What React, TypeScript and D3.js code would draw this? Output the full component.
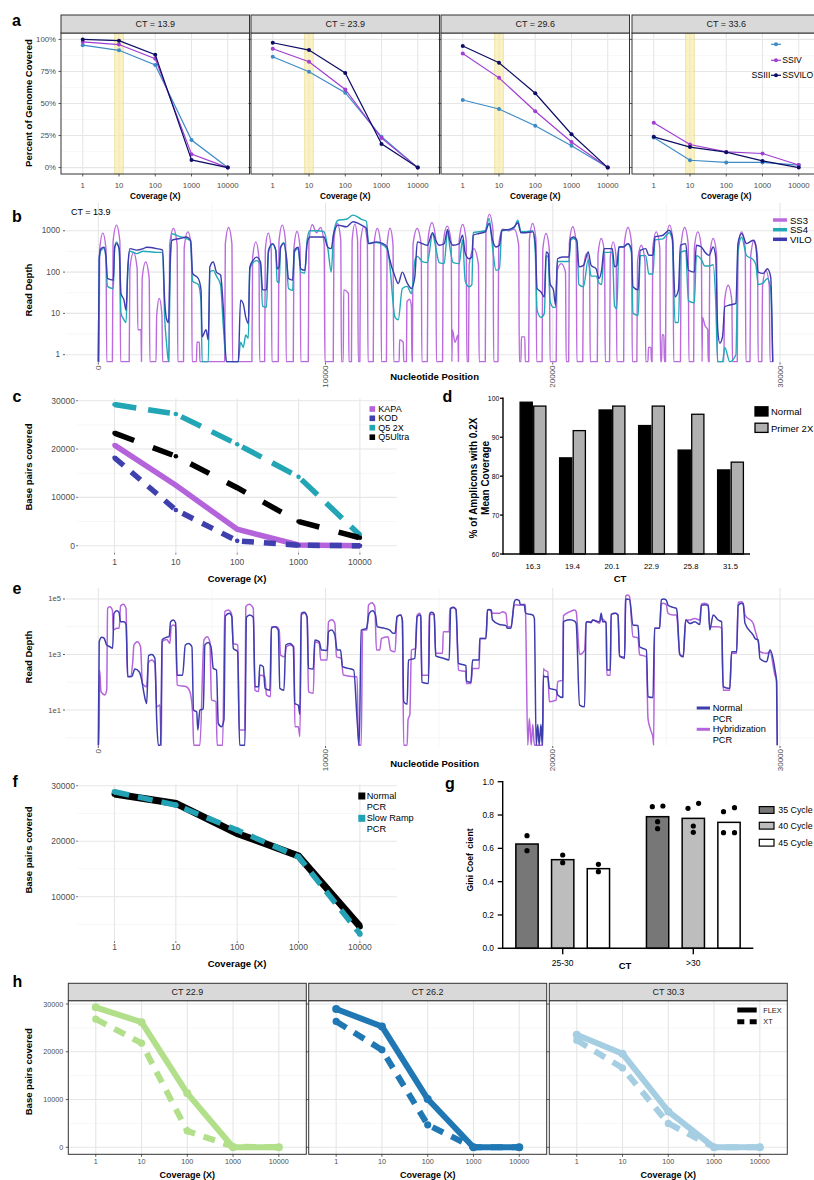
import React from "react";
import * as d3 from "d3";

const FONT = "'Liberation Sans', Arial, Helvetica, sans-serif";
const GRID = "#e6e6e6";
const GRID_MINOR = "#f1f1f1";
const AXIS_TEXT = "#4d4d4d";
const FRAME = "#333333";

type Pt = [number, number];

/* ---------- a: percent of genome covered by reverse transcriptase ---------- */
const coverageLevels = ["1", "10", "100", "1000", "10000"];
const ctPanelsA = ["CT = 13.9", "CT = 23.9", "CT = 29.6", "CT = 33.6"];
const pctSSIII = [
  [95.5, 91.5, 80, 21.5, 0],
  [86.5, 74.8, 58.4, 24, 0],
  [52.7, 45.7, 32.7, 17, 0],
  [23.4, 5.7, 4, 4, 2],
];
const pctSSIV = [
  [98, 96, 85, 10.5, 0],
  [92.7, 82.6, 61, 23, 0],
  [89, 70, 44, 20, 0],
  [35, 18, 12.2, 11, 2],
];
const pctSSVILO = [
  [100, 99, 88, 6, 0],
  [97.4, 91.7, 73.8, 18.5, 0],
  [94.8, 81.8, 58, 26, 0],
  [24, 16, 12, 5.2, 0],
];
const pctTicks = [0, 25, 50, 75, 100];

/* ---------- b: read depth along the genome, CT = 13.9 ---------- */
const positionTicks = [0, 10000, 20000, 30000];
const depthTicksB = [1, 10, 100, 1000];

const depthSS3: Pt[] = [
  [0, 0], [30, 0], [60, 350], [200, 880], [340, 350], [370, 0],
  [620, 0], [650, 550], [800, 1370], [950, 550], [980, 0],
  [1360, 0], [1390, 120], [1550, 300], [1710, 120], [1740, 4], [1880, 4], [1900, 0],
  [1930, 70], [2085, 175], [2240, 70], [2270, 0],
  [2540, 0], [2570, 9], [2685, 23], [2800, 9], [2830, 0],
  [3110, 0], [3140, 460], [3305, 1140], [3470, 460], [3500, 0],
  [3750, 0], [3780, 380], [3940, 940], [4100, 380], [4130, 0],
  [4320, 0], [4340, 2], [4450, 2], [4470, 0],
  [5560, 0], [5590, 480], [5735, 1200], [5880, 480], [5910, 0],
  [6760, 0], [6790, 220], [6930, 540], [7070, 220], [7100, 0],
  [7320, 0], [7350, 350], [7480, 880], [7610, 350], [7640, 0],
  [7920, 0], [7950, 550], [8095, 1370], [8240, 550], [8270, 0],
  [8580, 0], [8610, 380], [8745, 960], [8880, 380], [8910, 0],
  [9240, 0], [9270, 560], [9420, 1400], [9600, 900], [9780, 1200], [9940, 480], [9970, 0],
  [10340, 0], [10370, 600], [10520, 1500], [10670, 600], [10700, 0],
  [10780, 0], [10800, 37], [11010, 30], [11030, 0],
  [11140, 0], [11170, 580], [11290, 1450], [11410, 580], [11440, 0],
  [11510, 0], [11540, 520], [11690, 1300], [11840, 520], [11870, 0],
  [12100, 0], [12130, 460], [12280, 1140], [12430, 460], [12460, 0],
  [12680, 0], [12710, 460], [12840, 1150], [12970, 460], [13000, 0],
  [13240, 0], [13260, 2.3], [13420, 2], [13440, 0],
  [13560, 0], [13580, 19], [13700, 22], [13780, 15], [13800, 0],
  [13820, 0], [13850, 460], [14030, 1140], [14210, 460], [14240, 0],
  [14480, 0], [14510, 620], [14680, 1560], [14850, 620], [14880, 0],
  [15150, 0], [15180, 520], [15355, 1300], [15530, 520], [15560, 0], [15580, 4], [15700, 2], [15830, 3], [15850, 0],
  [15880, 570], [16035, 1420], [16190, 570], [16220, 0],
  [16290, 0], [16320, 150], [16525, 370], [16730, 150], [16760, 0],
  [17030, 0], [17060, 1000], [17215, 2500], [17370, 1000], [17400, 0],
  [17590, 0], [17620, 450], [17800, 1100], [18060, 1000], [18300, 1100], [18500, 450], [18530, 0],
  [18600, 0], [18620, 2.7], [18770, 2.7], [18790, 0],
  [18940, 0], [18970, 600], [19115, 1500], [19260, 600], [19290, 0],
  [19530, 0], [19560, 340], [19705, 860], [19850, 340], [19880, 0],
  [20150, 0], [20180, 100], [20370, 160], [20560, 100], [20590, 0],
  [20700, 0], [20730, 500], [20880, 1250], [21030, 500], [21060, 0],
  [21320, 0], [21350, 110], [21485, 280], [21620, 110], [21650, 0],
  [21960, 0], [21990, 260], [22135, 650], [22280, 260], [22310, 0],
  [22500, 0], [22530, 220], [22660, 540], [22790, 220], [22820, 0],
  [23120, 0], [23150, 480], [23310, 1200], [23470, 480], [23500, 0],
  [23700, 0], [23730, 180], [23895, 446], [24060, 180], [24090, 0],
  [24190, 0], [24210, 1.5], [24320, 1.5], [24340, 0],
  [24370, 0], [24400, 380], [24555, 940], [24710, 380], [24740, 0],
  [24790, 0], [24810, 3], [24890, 3], [24910, 0],
  [24960, 0], [24990, 550], [25140, 1370], [25290, 550], [25320, 0],
  [25620, 0], [25650, 480], [25805, 1200], [25960, 480], [25990, 0],
  [26200, 0], [26230, 380], [26385, 940], [26540, 380], [26570, 0], [26590, 8], [26700, 5], [26820, 4], [26840, 0],
  [26880, 0], [26910, 260], [27060, 650], [27210, 260], [27240, 0],
  [27530, 0], [27560, 20], [27720, 48], [27880, 20], [27910, 0],
  [28120, 0], [28150, 380], [28310, 940], [28470, 380], [28500, 0],
  [28680, 0], [28710, 240], [28860, 590], [29010, 240], [29040, 0],
  [29200, 0], [29230, 45], [29380, 110], [29530, 45], [29560, 0],
  [29700, 0],
];

const depthSS4: Pt[] = [
  [0, 0], [40, 200], [120, 340], [250, 370], [340, 200], [400, 45], [660, 40], [720, 380], [800, 540], [920, 340],
  [1000, 10], [1130, 7], [1220, 6], [1300, 110], [1390, 320], [1690, 280], [1980, 320], [2570, 300], [2830, 300],
  [2920, 8], [3000, 2], [3090, 0], [3170, 150], [3240, 850], [3590, 720], [3880, 650], [4060, 560], [4150, 60],
  [4400, 50], [4520, 20], [4570, 0], [4840, 0], [4910, 100], [5060, 110], [5200, 80], [5380, 50], [5500, 5],
  [5640, 0], [6160, 0], [6260, 2], [6380, 1.5], [6490, 3], [6600, 2.5], [6670, 120], [6820, 170], [6960, 190],
  [7140, 150], [7230, 15], [7400, 14], [7490, 300], [7670, 470], [7810, 330], [7870, 60], [7960, 55], [8020, 380],
  [8170, 520], [8280, 200], [8370, 40], [8550, 36], [8630, 300], [8800, 370], [8910, 100], [9090, 95], [9190, 600],
  [9310, 1000], [9600, 1000], [9930, 950], [10100, 380], [10250, 100], [10360, 900], [10550, 1800], [10920, 1900],
  [11210, 2400], [11580, 1900], [11800, 1700], [11890, 500], [12240, 520], [12530, 450], [12710, 360], [12800, 200],
  [13060, 8], [13200, 7], [13380, 40], [13590, 45], [13780, 30], [13940, 200], [14040, 240], [14260, 180],
  [14480, 170], [14710, 850], [14850, 400], [15000, 170], [15220, 160], [15370, 1000], [15470, 400], [15620, 170],
  [15880, 160], [16030, 600], [16150, 60], [16320, 44], [16440, 50], [16500, 900], [16760, 950], [17030, 1000],
  [17200, 2000], [17350, 400], [17500, 110], [17650, 120], [17760, 1000], [18090, 1050], [18310, 1200],
  [18460, 1800], [18600, 950], [18820, 950], [19120, 1000], [19230, 300], [19310, 12], [19480, 8], [19630, 10],
  [19710, 250], [19800, 230], [19880, 20], [20030, 14], [20120, 14], [20210, 180], [20440, 180], [20710, 180],
  [20790, 600], [20910, 650], [21060, 550], [21150, 50], [21350, 44], [21560, 200], [21690, 80], [21910, 80],
  [22030, 55], [22150, 50], [22260, 300], [22620, 300], [22720, 15], [22820, 13], [22910, 400], [23120, 420],
  [23310, 480], [23460, 300], [23530, 10], [23760, 9], [23850, 250], [24090, 250], [24230, 90], [24410, 90],
  [24500, 600], [24850, 640], [25120, 900], [25260, 600], [25380, 6], [25530, 6], [25620, 300], [25850, 330],
  [25970, 20], [26230, 18], [26320, 250], [26540, 200], [26690, 140], [26880, 140], [27060, 150], [27170, 20],
  [27260, 0], [27470, 0], [27570, 1.5], [27790, 0], [28060, 1], [28150, 300], [28310, 700], [28530, 250],
  [28820, 200], [28940, 150], [29040, 50], [29260, 55], [29440, 70], [29590, 40], [29680, 0],
];

const depthVILO: Pt[] = [
  [0, 0], [40, 230], [120, 370], [250, 400], [340, 230], [400, 70], [660, 64], [720, 400], [800, 490], [920, 370],
  [1000, 30], [1130, 21], [1220, 12], [1300, 130], [1390, 370], [1690, 340], [1980, 370], [2130, 400], [2570, 370],
  [2830, 340], [2920, 21], [3000, 7.5], [3090, 6], [3170, 230], [3240, 590], [3590, 650], [3880, 710], [4060, 590],
  [4150, 93], [4400, 70], [4520, 37], [4570, 2.7], [4740, 4], [4840, 2.3], [4910, 134], [5060, 175], [5200, 100],
  [5380, 85], [5500, 14], [5640, 0], [6160, 0], [6260, 21], [6380, 17], [6490, 8], [6600, 5.7], [6670, 134],
  [6820, 195], [6960, 230], [7140, 175], [7230, 37], [7400, 37], [7490, 340], [7670, 490], [7810, 340], [7870, 120],
  [7960, 134], [8020, 400], [8170, 490], [8280, 230], [8370, 70], [8550, 64], [8630, 340], [8800, 400], [8910, 120],
  [9090, 111], [9190, 490], [9310, 710], [9600, 710], [9930, 710], [10100, 400], [10250, 370], [10360, 860],
  [10550, 1370], [10920, 1250], [11210, 1650], [11580, 1370], [11800, 1140], [11890, 490], [12240, 540],
  [12530, 490], [12710, 400], [12800, 230], [13060, 77], [13200, 53], [13380, 100], [13590, 55], [13780, 40],
  [13930, 77], [14040, 540], [14260, 490], [14480, 446], [14710, 900], [14850, 590], [15000, 446], [15220, 490],
  [15370, 1080], [15470, 590], [15620, 446], [15880, 490], [16030, 780], [16150, 280], [16320, 210], [16440, 232],
  [16500, 780], [16760, 860], [17030, 940], [17200, 1500], [17350, 590], [17500, 406], [17650, 446], [17760, 1035],
  [18090, 1080], [18310, 1250], [18460, 1560], [18600, 900], [18820, 900], [19120, 940], [19230, 490], [19310, 40],
  [19480, 33], [19630, 25], [19710, 307], [19800, 280], [19880, 53], [20030, 37], [20120, 16], [20210, 210],
  [20440, 232], [20710, 232], [20790, 650], [20910, 710], [21060, 590], [21150, 134], [21350, 145], [21560, 307],
  [21690, 145], [21910, 120], [22030, 70], [22150, 111], [22260, 370], [22620, 370], [22720, 134], [22820, 145],
  [22910, 406], [23120, 406], [23310, 490], [23460, 370], [23530, 44], [23760, 37], [23850, 337], [24090, 370],
  [24230, 255], [24410, 255], [24500, 710], [24850, 780], [25120, 1035], [25260, 710], [25380, 25], [25530, 37],
  [25620, 446], [25850, 490], [25970, 111], [26230, 100], [26320, 446], [26540, 406], [26690, 307], [26880, 255],
  [27060, 406], [27170, 232], [27260, 4], [27350, 1.9], [27470, 2.7], [27570, 14.5], [27790, 16], [28060, 17.5],
  [28150, 490], [28310, 860], [28530, 490], [28820, 590], [28940, 406], [29040, 100], [29260, 93], [29440, 120],
  [29590, 77], [29680, 0],
];

/* ---------- c: base pairs covered by polymerase ---------- */
const polymerases = ["KAPA", "KOD", "Q5 2X", "Q5Ultra"];
const bpKAPA = [20800, 12500, 3400, 150, 0];
const bpKOD = [18200, 7400, 1000, 100, 0];
const bpQ52X = [29200, 27250, 21000, 14250, 2200];
const bpQ5Ultra = [23300, 18500, 12000, 5000, 1650];
const bpTicksC = [0, 10000, 20000, 30000];

/* ---------- d: amplicons reaching 0.2X mean coverage ---------- */
const ctD = ["16.3", "19.4", "20.1", "22.9", "25.8", "31.5"];
const ampNormal = [99, 84.7, 97, 93, 86.7, 81.6];
const ampPrimer2X = [98, 91.7, 98, 98, 95.9, 83.6];
const ampTicks = [60, 70, 80, 90, 100];

/* ---------- e: read depth, normal vs hybridization PCR ---------- */
const depthTicksE = [10, 1000, 100000];
const depthTickLabelsE = ["1e1", "1e3", "1e5"];

const depthNormalPCR: Pt[] = [
  [0, 0], [40, 2900], [150, 4200], [260, 3800], [370, 2200], [510, 1900], [630, 1670], [690, 30000], [810, 38000],
  [910, 33000], [980, 15000], [1130, 15000], [1220, 12000], [1300, 160], [1470, 160], [1610, 300], [1800, 240],
  [1910, 120], [2010, 40], [2130, 17], [2210, 900], [2350, 1000], [2490, 730], [2570, 4.4], [2640, 0], [2740, 0],
  [2810, 3400], [3010, 4200], [3120, 4400], [3180, 15000], [3300, 17500], [3400, 14000], [3470, 180], [3710, 180],
  [3830, 2200], [3970, 2500], [4120, 1900], [4190, 10], [4330, 8.5], [4380, 1.9], [4470, 10], [4620, 11],
  [4690, 2200], [4840, 2700], [4960, 1900], [5060, 316], [5200, 275], [5280, 3.3], [5420, 2.5], [5530, 4.4],
  [5590, 24000], [5760, 30400], [5880, 23000], [5940, 1670], [6130, 1260], [6220, 0], [6450, 0], [6520, 22000],
  [6670, 26500], [6820, 22000], [6900, 69], [7050, 69], [7110, 417], [7260, 363], [7340, 60], [7550, 52],
  [7620, 8760], [7770, 10100], [7920, 7630], [7990, 60], [8170, 52], [8250, 2200], [8430, 2500], [8580, 1900],
  [8650, 17], [8800, 15], [8870, 7], [8930, 30400], [9060, 33000], [9190, 23000], [9250, 316], [9460, 300],
  [9530, 3300], [9720, 2900], [9820, 1450], [10070, 1400], [10130, 6650], [10260, 7630], [10410, 5040],
  [10510, 1450], [10660, 1450], [10750, 363], [11000, 316], [11240, 275], [11390, 4.4], [11480, 0], [11570, 7630],
  [11800, 8760], [11920, 30400], [12070, 38000], [12200, 26500], [12270, 10100], [12610, 8760], [12830, 7630],
  [12970, 5790], [13060, 5790], [13150, 23100], [13300, 26500], [13380, 17500], [13440, 20], [13590, 16],
  [13650, 631], [13930, 725], [14030, 23100], [14150, 26500], [14190, 25000], [14240, 100], [14530, 90],
  [14590, 30400], [14680, 33000], [14780, 28000], [14850, 900], [15150, 750], [15440, 640], [15510, 45000],
  [15620, 50000], [15740, 42000], [15850, 480], [16180, 400], [16200, 110], [16400, 100], [16470, 630],
  [16760, 630], [16790, 3800], [17060, 3800], [17130, 40000], [17180, 42000], [17280, 40000], [17350, 17500],
  [17650, 12000], [17940, 11000], [18010, 8760], [18160, 8760], [18310, 80000], [18380, 95000], [18530, 88000],
  [18560, 65000], [18750, 60000], [18790, 35000], [18820, 30400], [19120, 26500], [19190, 20000], [19270, 0],
  [19340, 3], [19400, 0], [19480, 3], [19540, 0], [19590, 180], [19630, 158], [19780, 160], [19850, 60],
  [20150, 52], [20220, 35], [20440, 28], [20470, 15000], [20510, 16000], [20760, 18000], [20960, 16000],
  [21030, 13000], [21180, 15], [21400, 13], [21470, 14000], [21540, 15000], [21690, 14000], [21760, 17500],
  [22060, 15000], [22130, 30400], [22200, 15000], [22350, 15000], [22380, 275], [22530, 275], [22570, 28000],
  [22760, 30400], [22870, 26500], [22940, 900], [23160, 725], [23210, 90000], [23240, 100000], [23380, 95000],
  [23530, 11600], [23750, 11000], [23820, 1900], [24120, 1450], [24190, 30], [24410, 28], [24480, 8760],
  [24700, 8760], [24780, 95000], [24880, 100000], [25000, 90000], [25070, 60000], [25300, 50000], [25440, 46000],
  [25470, 35000], [25590, 1000], [25740, 830], [25850, 17500], [26030, 13000], [26250, 15000], [26470, 12000],
  [26540, 60000], [26690, 62000], [26840, 58000], [26910, 7630], [27060, 26500], [27280, 17500], [27430, 15000],
  [27500, 69], [27790, 60], [27870, 1260], [28090, 1260], [28160, 60000], [28310, 70000], [28380, 65000],
  [28460, 13300], [28820, 5000], [28900, 3800], [29040, 3300], [29120, 700], [29410, 550], [29560, 1450],
  [29780, 275], [29850, 100], [29880, 0],
];

const depthHybridPCR: Pt[] = [
  [0, 0], [30, 0], [60, 275], [120, 46], [290, 35], [370, 52], [410, 46000], [510, 53000], [620, 40000], [660, 7600],
  [810, 8760], [920, 8760], [980, 56000], [1100, 65000], [1220, 46000], [1280, 158], [1420, 158], [1510, 480],
  [1570, 2200], [1720, 2900], [1860, 1900], [1940, 91], [2130, 69], [2200, 500], [2350, 631], [2490, 480],
  [2570, 13], [2710, 15], [2770, 0], [2810, 2900], [3010, 3500], [3150, 2500], [3210, 10100], [3300, 11600],
  [3400, 10100], [3470, 79], [3880, 69], [4030, 46], [4150, 8], [4200, 0], [4470, 0], [4650, 3300], [4790, 4400],
  [4910, 2900], [4980, 23], [5180, 20], [5230, 0], [5470, 0], [5570, 35000], [5720, 40000], [5860, 30400],
  [5940, 2500], [6140, 2200], [6200, 1.9], [6450, 1.9], [6490, 53000], [6640, 65000], [6820, 46000], [6890, 52],
  [7050, 46], [7110, 182], [7330, 158], [7400, 35], [7580, 30], [7620, 10100], [7840, 10100], [7960, 7630],
  [8020, 955], [8210, 830], [8280, 1900], [8460, 2200], [8610, 1900], [8650, 2.5], [8800, 2.5], [8870, 1.1],
  [8940, 26500], [9090, 30400], [9190, 20000], [9250, 46], [9460, 40], [9530, 2900], [9720, 2500], [9790, 631],
  [10070, 631], [10130, 15000], [10280, 18000], [10410, 13300], [10480, 830], [10690, 725], [10780, 182],
  [11290, 158], [11390, 158], [11450, 0], [11570, 0], [11630, 7630], [11830, 7630], [11890, 60000],
  [12040, 74000], [12170, 53000], [12240, 1450], [12390, 1450], [12460, 3800], [12750, 4400], [12860, 1450],
  [13060, 1260], [13150, 23100], [13300, 26500], [13380, 17500], [13440, 0], [13590, 0], [13630, 4.4],
  [13710, 7], [13780, 1450], [13970, 1670], [14030, 26500], [14150, 30400], [14190, 20000], [14240, 180],
  [14530, 180], [14560, 26500], [14680, 28000], [14780, 26500], [14850, 1100], [15150, 1100], [15180, 6650],
  [15440, 6650], [15470, 46000], [15620, 48000], [15740, 42000], [15850, 275], [16180, 240], [16200, 91],
  [16400, 91], [16470, 316], [16760, 316], [16790, 3800], [17060, 3800], [17130, 40000], [17280, 40000],
  [17350, 30400], [17650, 30400], [17800, 35000], [17940, 30000], [18010, 10100], [18160, 10100], [18310, 60000],
  [18380, 62000], [18530, 60000], [18750, 65000], [18790, 60000], [18900, 0], [18970, 5], [19050, 0], [19120, 3],
  [19190, 0], [19560, 0], [19590, 316], [19630, 275], [19780, 240], [19850, 20], [20150, 23], [20220, 105],
  [20440, 120], [20470, 25000], [20760, 35000], [20960, 40000], [21030, 35000], [21180, 1000], [21400, 1450],
  [21470, 15000], [21690, 15000], [21760, 17500], [22060, 13300], [22130, 20000], [22350, 13300], [22380, 180],
  [22530, 180], [22570, 28000], [22760, 30400], [22870, 26500], [22940, 830], [23160, 830], [23210, 130000],
  [23310, 140000], [23380, 120000], [23530, 4400], [23750, 4000], [23820, 1000], [24120, 830], [24190, 5],
  [24300, 2], [24410, 1], [24440, 0], [24480, 8760], [24700, 8760], [24780, 65000], [24880, 70000], [25000, 60000],
  [25070, 30400], [25300, 26500], [25440, 26500], [25470, 20000], [25590, 1000], [25740, 830], [25850, 17500],
  [26030, 17500], [26250, 20000], [26470, 17500], [26540, 65000], [26690, 70000], [26840, 62000], [26910, 10100],
  [27060, 10100], [27280, 10100], [27430, 8760], [27500, 52], [27790, 52], [27870, 1100], [28090, 1100],
  [28160, 75000], [28310, 80000], [28380, 70000], [28460, 26500], [28820, 13300], [28900, 7630], [29040, 2900],
  [29120, 1260], [29410, 1100], [29560, 1260], [29780, 180], [29850, 120], [29880, 0],
];

/* ---------- f: normal vs slow-ramp PCR ---------- */
const bpNormalPCR = [28500, 26800, 21400, 17350, 4650];
const bpSlowRampPCR = [28900, 26500, 22000, 17200, 3300];
const bpTicksF = [10000, 20000, 30000];

/* ---------- g: Gini coefficient by cycle number ---------- */
const ctGroupsG = ["25-30", ">30"];
const cycleLabels = ["35 Cycle", "40 Cycle", "45 Cycle"];
const giniMean2530 = [0.626, 0.532, 0.478];
const giniMeanOver30 = [0.79, 0.78, 0.756];
const giniReps2530 = [[0.676, 0.586], [0.56, 0.514], [0.504, 0.46]];
const giniRepsOver30 = [[0.85, 0.854, 0.76, 0.718], [0.84, 0.87, 0.734, 0.696], [0.82, 0.844, 0.694, 0.694]];
const giniTicks = [0, 0.2, 0.4, 0.6, 0.8, 1.0];

/* ---------- h: FLEX vs XT library kits ---------- */
const ctPanelsH = ["CT 22.9", "CT 26.2", "CT 30.3"];
const bpFLEX = [
  [29300, 26200, 11300, 0, 0],
  [28950, 25300, 10100, 0, 0],
  [23550, 19600, 7500, 0, 0],
];
const bpXT = [
  [26850, 21800, 3400, 150, 0],
  [26350, 20400, 4700, 0, 0],
  [22400, 16600, 5000, 0, 0],
];
const bpTicksH = [0, 10000, 20000, 30000];

/* ---------- shared helpers ---------- */
function Label(props: {
  x: number; y: number; text: string; size?: number; anchor?: string; bold?: boolean;
  color?: string; rotate?: number; baseline?: string;
}) {
  const { x, y, text, size = 8, anchor = "middle", bold = false, color = "#000", rotate = 0, baseline = "central" } = props;
  return (
    <text
      transform={`translate(${x},${y})${rotate ? ` rotate(${rotate})` : ""}`}
      fontSize={size}
      textAnchor={anchor as any}
      fontWeight={bold ? "bold" : "normal"}
      fill={color}
      dominantBaseline={baseline as any}
      style={{ whiteSpace: "pre" }}
    >
      {text}
    </text>
  );
}

function PanelTag({ x, y, t }: { x: number; y: number; t: string }) {
  return <Label x={x} y={y} text={t} size={16} bold anchor="start" baseline="alphabetic" />;
}

function tracePath(data: Pt[], x: (v: number) => number, y: (v: number) => number, floorY: number) {
  const line = d3
    .line<Pt>()
    .x((d) => x(d[0]))
    .y((d) => (d[1] <= 0 ? floorY : Math.min(floorY, y(d[1]))))
    .curve(d3.curveMonotoneX);
  return line(data) ?? "";
}

function fmt(v: number) {
  return d3.format("d")(v);
}

/* ---------- a ---------- */
const facetLeftA = [61, 251, 441, 632];
const facetWidthA = 188.5;

function PanelA() {
  const top = 33, bottom = 174, stripTop = 15;
  const y = d3.scaleLinear().domain([-5, 105]).range([bottom, top]);
  const series = [
    { color: "#3d8bc6", values: pctSSIII },
    { color: "#a03ed3", values: pctSSIV },
    { color: "#0d0d66", values: pctSSVILO },
  ];
  const minor = [12.5, 37.5, 62.5, 87.5];
  const legendX = 771, legendW = 10;
  return (
    <g>
      <PanelTag x={12} y={26} t="a" />
      <Label x={28} y={103} text="Percent of Genome Covered" size={9.5} bold rotate={-90} />
      {ctPanelsA.map((ct, i) => {
        const x0 = facetLeftA[i];
        const x = d3.scalePoint<string>().domain(coverageLevels).range([x0, x0 + facetWidthA]).padding(0.6);
        const line = d3.line<number>().x((_, j) => x(coverageLevels[j])!).y((v) => y(v));
        const band = x("10")!;
        return (
          <g key={ct}>
            <rect x={x0} y={top} width={facetWidthA} height={bottom - top} fill="#fff" />
            {minor.map((v) => (
              <line key={`n${v}`} x1={x0} x2={x0 + facetWidthA} y1={y(v)} y2={y(v)} stroke={GRID_MINOR} strokeWidth={0.6} />
            ))}
            {pctTicks.map((v) => (
              <line key={`m${v}`} x1={x0} x2={x0 + facetWidthA} y1={y(v)} y2={y(v)} stroke={GRID} strokeWidth={1.1} />
            ))}
            {coverageLevels.map((c) => (
              <line key={`v${c}`} x1={x(c)} x2={x(c)} y1={top} y2={bottom} stroke={GRID} strokeWidth={1.1} />
            ))}
            <rect x={band - 4.2} y={top} width={8.4} height={bottom - top} fill="#f7eba4" fillOpacity={0.65} stroke="#e4d37f" strokeWidth={0.6} />
            {series.map((s, k) => (
              <g key={k}>
                <path d={line(s.values[i]) ?? ""} fill="none" stroke={s.color} strokeWidth={1.2} />
                {s.values[i].map((v, j) => (
                  <circle key={j} cx={x(coverageLevels[j])} cy={y(v)} r={2} fill={s.color} />
                ))}
              </g>
            ))}
            <rect x={x0} y={top} width={facetWidthA} height={bottom - top} fill="none" stroke={FRAME} strokeWidth={1} />
            <rect x={x0} y={stripTop} width={facetWidthA} height={top - stripTop} fill="#d9d9d9" stroke={FRAME} strokeWidth={1} />
            <Label x={x0 + facetWidthA / 2} y={24.3} text={ct} size={9} color="#1a1a1a" />
            {pctTicks.map((v) => (
              <line key={`t${v}`} x1={x0 - 2.5} x2={x0} y1={y(v)} y2={y(v)} stroke={FRAME} strokeWidth={0.8} />
            ))}
            {coverageLevels.map((c) => (
              <g key={`x${c}`}>
                <line x1={x(c)} x2={x(c)} y1={bottom} y2={bottom + 2.5} stroke={FRAME} strokeWidth={0.8} />
                <Label x={x(c)!} y={185.3} text={c} size={7.8} color={AXIS_TEXT} />
              </g>
            ))}
            <Label x={x0 + facetWidthA / 2} y={196} text="Coverage (X)" size={8.2} bold />
          </g>
        );
      })}
      {pctTicks.map((v) => (
        <Label key={v} x={56} y={y(v)} text={`${v}%`} size={7.8} anchor="end" color={AXIS_TEXT} />
      ))}
      {/* legend inside the last facet */}
      {[
        { yy: 44.3, c: series[0].color, label: "" },
        { yy: 60.3, c: series[1].color, label: "SSIV" },
        { yy: 75.3, c: series[2].color, label: "SSVILO" },
      ].map((r, k) => (
        <g key={k}>
          <line x1={legendX} x2={legendX + legendW} y1={r.yy} y2={r.yy} stroke={r.c} strokeWidth={1.2} />
          <circle cx={legendX + legendW / 2} cy={r.yy} r={2} fill={r.c} />
          <Label x={legendX + legendW + 1.2} y={r.yy} text={r.label} size={8.6} anchor="start" />
        </g>
      ))}
      <Label x={legendX - 0.5} y={75.3} text="SSIII" size={8.8} anchor="end" />
    </g>
  );
}

/* ---------- b ---------- */
function PanelB() {
  const left = 66, right = 814, top = 203, bottom = 362.5;
  const x = d3.scaleLinear().domain([0, 30000]).range([98.3, 780]);
  const y = d3.scaleLog().domain([0.665, 4710]).range([362, 203]);
  const traces = [
    { name: "SS3", color: "#bb6bdd", data: depthSS3 },
    { name: "SS4", color: "#22a9b8", data: depthSS4 },
    { name: "VILO", color: "#3c3cae", data: depthVILO },
  ];
  const minorY = depthTicksB.map((v) => v * Math.sqrt(10));
  const minorX = [5000, 15000, 25000];
  return (
    <g>
      <PanelTag x={12} y={221.7} t="b" />
      <defs>
        <clipPath id="clip-b">
          <rect x={left} y={top} width={right - left} height={bottom - top} />
        </clipPath>
      </defs>
      {minorY.map((v) => (
        <line key={`ny${v}`} x1={left} x2={right} y1={y(v)} y2={y(v)} stroke={GRID_MINOR} strokeWidth={0.6} />
      ))}
      {minorX.map((v) => (
        <line key={`nx${v}`} x1={x(v)} x2={x(v)} y1={top} y2={bottom} stroke={GRID_MINOR} strokeWidth={0.6} />
      ))}
      {depthTicksB.map((v) => (
        <line key={`my${v}`} x1={left} x2={right} y1={y(v)} y2={y(v)} stroke={GRID} strokeWidth={1.1} />
      ))}
      {positionTicks.map((v) => (
        <line key={`mx${v}`} x1={x(v)} x2={x(v)} y1={top} y2={bottom} stroke={GRID} strokeWidth={1.1} />
      ))}
      <g clipPath="url(#clip-b)">
        {traces.map((t) => (
          <path key={t.name} d={tracePath(t.data, x, y, 361.7)} fill="none" stroke={t.color} strokeWidth={1.4} strokeLinejoin="round" />
        ))}
      </g>
      <Label x={71} y={212} text="CT = 13.9" size={9} anchor="start" />
      {depthTicksB.map((v) => (
        <g key={v}>
          <line x1={left - 3} x2={left - 1} y1={y(v)} y2={y(v)} stroke={FRAME} strokeWidth={0.8} />
          <Label x={60} y={y(v)} text={fmt(v)} size={8.2} anchor="end" color={AXIS_TEXT} />
        </g>
      ))}
      {positionTicks.map((v) => (
        <g key={v}>
          <line x1={x(v)} x2={x(v)} y1={bottom} y2={bottom + 2} stroke={FRAME} strokeWidth={0.8} />
          <Label x={x(v)} y={bottom + 3} text={fmt(v)} size={8} anchor="end" rotate={-90} color={AXIS_TEXT} />
        </g>
      ))}
      <Label x={434.6} y={376} text="Nucleotide Position" size={9.5} bold />
      <Label x={28} y={290} text="Read Depth" size={9.5} bold rotate={-90} />
      {traces.map((t, k) => {
        const yy = [220, 229.7, 239.3][k];
        return (
          <g key={t.name}>
            <line x1={773} x2={787} y1={yy} y2={yy} stroke={t.color} strokeWidth={3.5} />
            <Label x={790} y={yy} text={t.name} size={9.5} anchor="start" />
          </g>
        );
      })}
    </g>
  );
}

/* ---------- c ---------- */
function PanelC() {
  const left = 77.7, right = 396.7, top = 398.5, bottom = 552.7;
  const x = d3.scalePoint<string>().domain(coverageLevels).range([left, right]).padding(0.6);
  const y = d3.scaleLinear().domain([0, 30000]).range([545.7, 400.7]);
  const series = [
    { name: polymerases[0], color: "#b463db", dash: undefined as string | undefined, values: bpKAPA },
    { name: polymerases[1], color: "#3f3fae", dash: "12,10", values: bpKOD },
    { name: polymerases[2], color: "#22a6b5", dash: "22,12", values: bpQ52X },
    { name: polymerases[3], color: "#000000", dash: "21,20", values: bpQ5Ultra },
  ];
  const line = d3.line<number>().x((_, j) => x(coverageLevels[j])!).y((v) => y(v));
  return (
    <g>
      <PanelTag x={12.5} y={401.7} t="c" />
      {[5000, 15000, 25000].map((v) => (
        <line key={v} x1={left} x2={right} y1={y(v)} y2={y(v)} stroke={GRID_MINOR} strokeWidth={0.6} />
      ))}
      {bpTicksC.map((v) => (
        <line key={v} x1={left} x2={right} y1={y(v)} y2={y(v)} stroke={GRID} strokeWidth={1.1} />
      ))}
      {coverageLevels.map((c) => (
        <line key={c} x1={x(c)} x2={x(c)} y1={top} y2={bottom} stroke={GRID} strokeWidth={1.1} />
      ))}
      {series.map((s) => (
        <g key={s.name}>
          <path d={line(s.values) ?? ""} fill="none" stroke={s.color} strokeWidth={5.5} strokeDasharray={s.dash} />
          {s.values.map((v, j) => (
            <circle key={j} cx={x(coverageLevels[j])} cy={y(v)} r={2.3} fill={s.color} />
          ))}
        </g>
      ))}
      {bpTicksC.map((v) => (
        <g key={v}>
          <line x1={76} x2={78} y1={y(v)} y2={y(v)} stroke={AXIS_TEXT} strokeWidth={0.7} />
          <Label x={75} y={y(v)} text={fmt(v)} size={8.5} anchor="end" color={AXIS_TEXT} />
        </g>
      ))}
      {coverageLevels.map((c) => (
        <g key={c}>
          <line x1={x(c)} x2={x(c)} y1={bottom} y2={bottom + 2} stroke={AXIS_TEXT} strokeWidth={0.7} />
          <Label x={x(c)!} y={561.7} text={c} size={8.5} color={AXIS_TEXT} />
        </g>
      ))}
      <Label x={237} y={578} text="Coverage (X)" size={9.5} bold />
      <Label x={28} y={467} text="Base pairs covered" size={9.5} bold rotate={-90} />
      {series.map((s, k) => {
        const yy = [409, 418.3, 427.7, 437.2][k];
        return (
          <g key={s.name}>
            <rect x={369.5} y={yy - 2.8} width={5.6} height={5.6} fill={s.color} />
            <Label x={378.3} y={yy} text={s.name} size={9} anchor="start" />
          </g>
        );
      })}
    </g>
  );
}

/* ---------- d ---------- */
function PanelD() {
  const axisX = 503, axisBottom = 554;
  const y = d3.scaleLinear().domain([60, 100]).range([axisBottom, 398.3]);
  const x = d3.scaleBand<string>().domain(ctD).range([513.25, 750.25]);
  const barW = 12.2;
  return (
    <g>
      <PanelTag x={442.5} y={401.7} t="d" />
      {ctD.map((ct, i) => {
        const c = x(ct)! + x.bandwidth() / 2;
        return (
          <g key={ct}>
            <rect x={c - 0.7 - barW} y={y(ampNormal[i])} width={barW} height={axisBottom - y(ampNormal[i])} fill="#000" stroke="#000" strokeWidth={1.3} />
            <rect x={c + 0.7} y={y(ampPrimer2X[i])} width={barW} height={axisBottom - y(ampPrimer2X[i])} fill="#b0b0b0" stroke="#000" strokeWidth={1.3} />
            <Label x={c} y={566.7} text={ct} size={7.6} />
          </g>
        );
      })}
      <line x1={axisX} x2={axisX} y1={397.6} y2={axisBottom + 0.7} stroke="#000" strokeWidth={1.4} />
      <line x1={axisX} x2={750} y1={axisBottom} y2={axisBottom} stroke="#000" strokeWidth={1.4} />
      {ampTicks.map((v) => (
        <g key={v}>
          <line x1={axisX - 3} x2={axisX} y1={y(v)} y2={y(v)} stroke="#000" strokeWidth={1.3} />
          <Label x={499.2} y={y(v)} text={String(v)} size={6.8} anchor="end" />
        </g>
      ))}
      <Label x={620} y={578} text="CT" size={9.5} bold />
      <Label x={473.5} y={478} text="% of Amplicons with 0.2X" size={10} bold rotate={-90} />
      <Label x={485} y={478} text="Mean Coverage" size={10} bold rotate={-90} />
      <rect x={755} y={406.8} width={13} height={9.2} fill="#000" stroke="#000" strokeWidth={1.3} />
      <Label x={771} y={411.5} text="Normal" size={9.5} anchor="start" />
      <rect x={755} y={423.2} width={13} height={9.2} fill="#b0b0b0" stroke="#000" strokeWidth={1.3} />
      <Label x={771} y={428} text="Primer 2X" size={9.5} anchor="start" />
    </g>
  );
}

/* ---------- e ---------- */
function PanelE() {
  const left = 66, right = 814, top = 588, bottom = 746;
  const x = d3.scaleLinear().domain([0, 30000]).range([98.3, 780]);
  const y = d3.scaleLog().domain([0.505, 249000]).range([bottom, top]);
  const traces = [
    { name: "Hybridization", color: "#b565dc", data: depthHybridPCR },
    { name: "Normal", color: "#3d3dae", data: depthNormalPCR },
  ];
  const minorY = [1, 100, 10000];
  const minorX = [5000, 15000, 25000];
  return (
    <g>
      <PanelTag x={12.5} y={593.5} t="e" />
      <defs>
        <clipPath id="clip-e">
          <rect x={left} y={top} width={right - left} height={bottom - top} />
        </clipPath>
      </defs>
      {minorY.map((v) => (
        <line key={`ny${v}`} x1={left} x2={right} y1={y(v)} y2={y(v)} stroke={GRID_MINOR} strokeWidth={0.7} />
      ))}
      {minorX.map((v) => (
        <line key={`nx${v}`} x1={x(v)} x2={x(v)} y1={top} y2={bottom} stroke={GRID_MINOR} strokeWidth={0.6} />
      ))}
      {depthTicksE.map((v) => (
        <line key={`my${v}`} x1={left} x2={right} y1={y(v)} y2={y(v)} stroke={GRID} strokeWidth={1.1} />
      ))}
      {positionTicks.map((v) => (
        <line key={`mx${v}`} x1={x(v)} x2={x(v)} y1={top} y2={bottom} stroke={GRID} strokeWidth={1.1} />
      ))}
      <g clipPath="url(#clip-e)">
        {traces.map((t) => (
          <path key={t.name} d={tracePath(t.data, x, y, 745.2)} fill="none" stroke={t.color} strokeWidth={1.5} strokeLinejoin="round" />
        ))}
      </g>
      {depthTicksE.map((v, k) => (
        <g key={v}>
          <line x1={left - 3} x2={left - 1} y1={y(v)} y2={y(v)} stroke={FRAME} strokeWidth={0.8} />
          <Label x={61} y={y(v)} text={depthTickLabelsE[k]} size={7.6} anchor="end" color={AXIS_TEXT} />
        </g>
      ))}
      {positionTicks.map((v) => (
        <g key={v}>
          <line x1={x(v)} x2={x(v)} y1={bottom} y2={bottom + 2} stroke={FRAME} strokeWidth={0.8} />
          <Label x={x(v)} y={bottom + 3} text={fmt(v)} size={8} anchor="end" rotate={-90} color={AXIS_TEXT} />
        </g>
      ))}
      <Label x={434.6} y={763} text="Nucleotide Position" size={9.5} bold />
      <Label x={28} y={657} text="Read Depth" size={9.5} bold rotate={-90} />
      <line x1={696.7} x2={710} y1={708} y2={708} stroke={traces[1].color} strokeWidth={3} />
      <Label x={712.7} y={708} text="Normal" size={9.2} anchor="start" />
      <Label x={712.7} y={718.5} text="PCR" size={9.2} anchor="start" />
      <line x1={696.7} x2={710} y1={729.3} y2={729.3} stroke={traces[0].color} strokeWidth={3} />
      <Label x={712.7} y={729.3} text="Hybridization" size={9.2} anchor="start" />
      <Label x={712.7} y={740} text="PCR" size={9.2} anchor="start" />
    </g>
  );
}

/* ---------- f ---------- */
function PanelF() {
  const left = 77.7, right = 396.7, top = 784.5, bottom = 941;
  const x = d3.scalePoint<string>().domain(coverageLevels).range([left, right]).padding(0.6);
  const y = d3.scaleLinear().domain([10000, 30000]).range([896.7, 785.7]);
  const line = d3.line<number>().x((_, j) => x(coverageLevels[j])!).y((v) => y(v));
  return (
    <g>
      <PanelTag x={12.5} y={786.5} t="f" />
      {[5000, 15000, 25000].map((v) => (
        <line key={v} x1={left} x2={right} y1={y(v)} y2={y(v)} stroke={GRID_MINOR} strokeWidth={0.6} />
      ))}
      {bpTicksF.map((v) => (
        <line key={v} x1={left} x2={right} y1={y(v)} y2={y(v)} stroke={GRID} strokeWidth={1.1} />
      ))}
      {coverageLevels.map((c) => (
        <line key={c} x1={x(c)} x2={x(c)} y1={top} y2={bottom} stroke={GRID} strokeWidth={1.1} />
      ))}
      <path d={line(bpNormalPCR) ?? ""} fill="none" stroke="#000" strokeWidth={7} />
      {bpNormalPCR.map((v, j) => (
        <circle key={j} cx={x(coverageLevels[j])} cy={y(v)} r={3} fill="#000" />
      ))}
      <path d={line(bpSlowRampPCR) ?? ""} fill="none" stroke="#22a2b4" strokeWidth={5.5} strokeDasharray="15,9" />
      {bpSlowRampPCR.map((v, j) => (
        <circle key={j} cx={x(coverageLevels[j])} cy={y(v)} r={2.8} fill="#22a2b4" />
      ))}
      {bpTicksF.map((v) => (
        <g key={v}>
          <line x1={76} x2={78} y1={y(v)} y2={y(v)} stroke={AXIS_TEXT} strokeWidth={0.7} />
          <Label x={75} y={y(v)} text={fmt(v)} size={8.5} anchor="end" color={AXIS_TEXT} />
        </g>
      ))}
      {coverageLevels.map((c) => (
        <g key={c}>
          <line x1={x(c)} x2={x(c)} y1={bottom} y2={bottom + 2} stroke={AXIS_TEXT} strokeWidth={0.7} />
          <Label x={x(c)!} y={946.7} text={c} size={8.5} color={AXIS_TEXT} />
        </g>
      ))}
      <Label x={237} y={963.3} text="Coverage (X)" size={9.5} bold />
      <Label x={28} y={850} text="Base pairs covered" size={9.5} bold rotate={-90} />
      <rect x={358.3} y={792.5} width={7} height={7} fill="#000" />
      <Label x={366.7} y={796} text="Normal" size={9.2} anchor="start" />
      <Label x={366.7} y={807.3} text="PCR" size={9.2} anchor="start" />
      <rect x={358.3} y={814.8} width={7} height={7} fill="#22a2b4" />
      <Label x={366.7} y={818.3} text="Slow Ramp" size={9.2} anchor="start" />
      <Label x={366.7} y={829.3} text="PCR" size={9.2} anchor="start" />
    </g>
  );
}

/* ---------- g ---------- */
function PanelG() {
  const axisX = 502.7, axisBottom = 948.3;
  const y = d3.scaleLinear().domain([0, 1]).range([axisBottom, 781.7]);
  const outer = d3.scalePoint<string>().domain(ctGroupsG).range([562.7, 693.3]);
  const inner = d3.scalePoint<string>().domain(cycleLabels).range([-35.7, 35.7]);
  const fills = ["#777777", "#bdbdbd", "#ffffff"];
  const barW = 22.3;
  const means = [giniMean2530, giniMeanOver30];
  const reps = [giniReps2530, giniRepsOver30];
  const spread = [[[0, 0], [0, 0], [0, 0]], [[-5.3, 5.3, 0, 0], [-5.3, 5.3, 0, 0], [-5.5, 5.5, -5.5, 5.5]]];
  return (
    <g>
      <PanelTag x={445} y={789} t="g" />
      {ctGroupsG.map((g, gi) => (
        <g key={g}>
          {cycleLabels.map((cy, ci) => {
            const c = outer(g)! + inner(cy)!;
            const v = means[gi][ci];
            return (
              <g key={cy}>
                <rect x={c - barW / 2} y={y(v)} width={barW} height={axisBottom - y(v)} fill={fills[ci]} stroke="#000" strokeWidth={1.5} />
                {reps[gi][ci].map((r, k) => (
                  <circle key={k} cx={c + spread[gi][ci][k]} cy={y(r)} r={2.6} fill="#000" />
                ))}
              </g>
            );
          })}
          <line x1={outer(g)} x2={outer(g)} y1={axisBottom} y2={axisBottom + 6} stroke="#000" strokeWidth={1.4} />
          <Label x={outer(g)!} y={962.7} text={g} size={8.5} />
        </g>
      ))}
      <line x1={axisX} x2={axisX} y1={781} y2={axisBottom + 0.7} stroke="#000" strokeWidth={1.4} />
      <line x1={axisX} x2={753.3} y1={axisBottom} y2={axisBottom} stroke="#000" strokeWidth={1.4} />
      {giniTicks.map((v) => (
        <g key={v}>
          <line x1={axisX - 5} x2={axisX} y1={y(v)} y2={y(v)} stroke="#000" strokeWidth={1.3} />
          <Label x={494} y={y(v)} text={v.toFixed(1)} size={8.3} anchor="end" />
        </g>
      ))}
      <Label x={625} y={965} text="CT" size={9.5} bold />
      <Label x={470} y={860} text={"Gini Coef\u2002cient"} size={8.7} bold rotate={-90} />
      {cycleLabels.map((cy, ci) => {
        const yy = [810, 825.7, 842.7][ci];
        return (
          <g key={cy}>
            <rect x={759.3} y={yy - 3.4} width={14.7} height={6.8} fill={fills[ci]} stroke="#000" strokeWidth={1.2} />
            <Label x={778.3} y={yy} text={cy} size={8.8} anchor="start" />
          </g>
        );
      })}
    </g>
  );
}

/* ---------- h ---------- */
const facetLeftH = [68.3, 308.7, 549.3];
const facetWidthH = 238;
const kitColors = ["#b2df8a", "#1f78b4", "#a6cee3"];

function PanelH() {
  const stripTop = 983.3, top = 1000.7, bottom = 1154.3;
  const y = d3.scaleLinear().domain([0, 30000]).range([1147.3, 1004]);
  return (
    <g>
      <PanelTag x={12.5} y={986.7} t="h" />
      <Label x={28} y={1071.7} text="Base pairs covered" size={9.5} bold rotate={-90} />
      {ctPanelsH.map((ct, i) => {
        const x0 = facetLeftH[i];
        const x = d3.scalePoint<string>().domain(coverageLevels).range([x0, x0 + facetWidthH]).padding(0.6);
        const line = d3.line<number>().x((_, j) => x(coverageLevels[j])!).y((v) => y(v));
        const col = kitColors[i];
        return (
          <g key={ct}>
            <rect x={x0} y={top} width={facetWidthH} height={bottom - top} fill="#fff" />
            {[5000, 15000, 25000].map((v) => (
              <line key={`n${v}`} x1={x0} x2={x0 + facetWidthH} y1={y(v)} y2={y(v)} stroke={GRID_MINOR} strokeWidth={0.6} />
            ))}
            {bpTicksH.map((v) => (
              <line key={`m${v}`} x1={x0} x2={x0 + facetWidthH} y1={y(v)} y2={y(v)} stroke={GRID} strokeWidth={1.1} />
            ))}
            {coverageLevels.map((c) => (
              <line key={`v${c}`} x1={x(c)} x2={x(c)} y1={top} y2={bottom} stroke={GRID} strokeWidth={1.1} />
            ))}
            <path d={line(bpFLEX[i]) ?? ""} fill="none" stroke={col} strokeWidth={6} strokeLinejoin="round" />
            {bpFLEX[i].map((v, j) => (
              <circle key={`f${j}`} cx={x(coverageLevels[j])} cy={y(v)} r={4} fill={col} />
            ))}
            <path d={line(bpXT[i]) ?? ""} fill="none" stroke={col} strokeWidth={6} strokeDasharray="12,9" />
            {bpXT[i].map((v, j) => (
              <circle key={`x${j}`} cx={x(coverageLevels[j])} cy={y(v)} r={3.6} fill={col} />
            ))}
            <rect x={x0} y={top} width={facetWidthH} height={bottom - top} fill="none" stroke={FRAME} strokeWidth={1} />
            <rect x={x0} y={stripTop} width={facetWidthH} height={top - stripTop} fill="#d9d9d9" stroke={FRAME} strokeWidth={1} />
            <Label x={x0 + facetWidthH / 2} y={992} text={ct} size={9} color="#1a1a1a" />
            {bpTicksH.map((v) => (
              <line key={`t${v}`} x1={x0 - 2.5} x2={x0} y1={y(v)} y2={y(v)} stroke={FRAME} strokeWidth={0.8} />
            ))}
            {coverageLevels.map((c) => (
              <g key={`l${c}`}>
                <line x1={x(c)} x2={x(c)} y1={bottom} y2={bottom + 2.5} stroke={FRAME} strokeWidth={0.8} />
                <Label x={x(c)!} y={1161.7} text={c} size={7.2} color={AXIS_TEXT} />
              </g>
            ))}
            <Label x={x0 + facetWidthH / 2} y={1175} text="Coverage (X)" size={9} bold />
          </g>
        );
      })}
      {bpTicksH.map((v) => (
        <Label key={v} x={63.3} y={y(v)} text={fmt(v)} size={7.2} anchor="end" color={AXIS_TEXT} />
      ))}
      <line x1={737.3} x2={756.7} y1={1010} y2={1010} stroke="#000" strokeWidth={5} />
      <Label x={763.3} y={1010} text="FLEX" size={7.3} anchor="start" color="#1a1a1a" />
      <line x1={737.3} x2={756.7} y1={1021.7} y2={1021.7} stroke="#000" strokeWidth={5} strokeDasharray="7,5.4" />
      <Label x={763.3} y={1021.7} text="XT" size={7.3} anchor="start" color="#1a1a1a" />
    </g>
  );
}

export default function App() {
  return (
    <svg
      width={814}
      height={1180}
      viewBox="0 0 814 1180"
      style={{ position: "absolute", left: 0, top: 0, display: "block" }}
      fontFamily={FONT}
    >
      <rect x={0} y={0} width={814} height={1180} fill="#ffffff" />
      <PanelA />
      <PanelB />
      <PanelC />
      <PanelD />
      <PanelE />
      <PanelF />
      <PanelG />
      <PanelH />
    </svg>
  );
}
